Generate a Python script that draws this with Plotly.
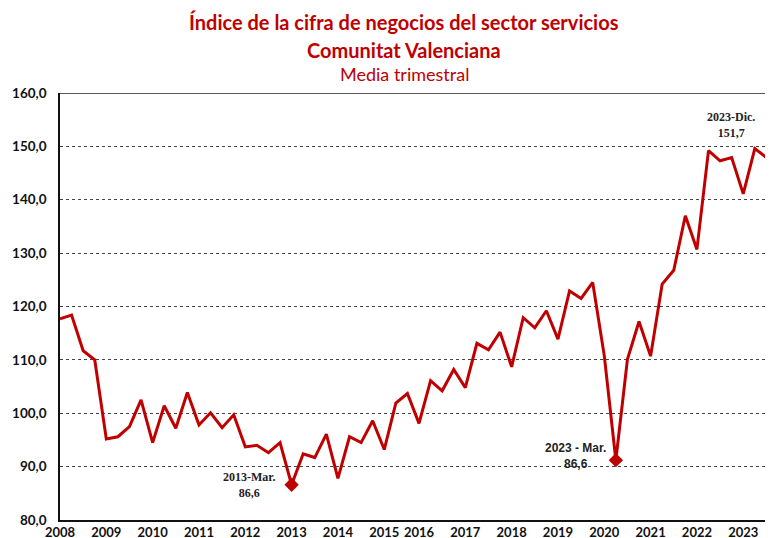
import plotly.graph_objects as go

# Quarterly index values (Media trimestral), 2008 onwards
values = [117.7, 118.4, 111.7, 110.0, 95.2, 95.6, 97.5, 102.5, 94.5, 101.4,
          97.2, 103.9, 97.8, 100.1, 97.3, 99.7, 93.7, 94.0, 92.6, 94.5,
          86.6, 92.4, 91.7, 96.1, 87.8, 95.6, 94.5, 98.6, 93.2, 101.9,
          103.7, 98.1, 106.1, 104.2, 108.2, 104.8, 113.1, 111.9, 115.2, 108.7,
          117.9, 116.0, 119.2, 113.9, 122.9, 121.5, 124.5, 110.8, 91.2, 110.1,
          117.2, 110.7, 124.2, 126.8, 137.0, 130.7, 149.2, 147.3, 147.9, 141.1,
          149.6, 147.9, 151.7]
periods = list(range(len(values)))

year_labels = ["2008", "2009", "2010", "2011", "2012", "2013", "2014", "2015",
               "2016", "2017", "2018", "2019", "2020", "2021", "2022", "2023"]
year_positions = [0, 4, 8, 12, 16, 20, 24, 28, 31, 35, 39, 43, 47, 51, 55, 59]

y_ticks = [80, 90, 100, 110, 120, 130, 140, 150, 160]
y_ticktext = ["80,0", "90,0", "100,0", "110,0", "120,0", "130,0", "140,0", "150,0", "160,0"]

marked_idx = [20, 48]

RED = "#C00000"

fig = go.Figure()
fig.add_trace(go.Scatter(x=periods, y=values, mode="lines",
                         line=dict(color=RED, width=3), hoverinfo="skip",
                         cliponaxis=True))
fig.add_trace(go.Scatter(x=[periods[i] for i in marked_idx],
                         y=[values[i] for i in marked_idx], mode="markers",
                         marker=dict(symbol="diamond", size=11, color=RED),
                         hoverinfo="skip"))

fig.add_shape(type="line", xref="paper", yref="y", x0=0, x1=1, y0=160, y1=160,
              line=dict(color="#222222", width=1.5))

title_font = "Lato"
fig.add_annotation(text="<b>Índice de la cifra de negocios del sector servicios</b>",
                   xref="paper", yref="paper", x=0.4825, y=1.166, xanchor="center",
                   yanchor="middle", showarrow=False,
                   font=dict(family=title_font, size=20, color=RED))
fig.add_annotation(text="<b>Comunitat Valenciana</b>",
                   xref="paper", yref="paper", x=0.4825, y=1.101, xanchor="center",
                   yanchor="middle", showarrow=False,
                   font=dict(family=title_font, size=20, color=RED))
fig.add_annotation(text="Media trimestral",
                   xref="paper", yref="paper", x=0.4825, y=1.045, xanchor="center",
                   yanchor="middle", showarrow=False,
                   font=dict(family=title_font, size=18, color=RED))

fig.add_annotation(text="<b>2013-Mar.<br>86,6</b>", x=16.4, y=86.6, showarrow=False,
                   font=dict(family="Liberation Serif", size=12, color="#222222"))
fig.add_annotation(text="<b>2023 - Mar.<br>86,6</b>", x=44.5, y=92.0, showarrow=False,
                   font=dict(family="Liberation Sans", size=12, color="#222222"))
fig.add_annotation(text="<b>2023-Dic.<br>151,7</b>", x=57.9, y=154.0, showarrow=False,
                   font=dict(family="Liberation Serif", size=12, color="#222222"))

fig.update_layout(
    width=765, height=530,
    margin=dict(l=52, r=0, t=85, b=18),
    paper_bgcolor="white", plot_bgcolor="white",
    showlegend=False,
    xaxis=dict(range=[0, 61.57], tickmode="array", tickvals=year_positions,
               ticktext=year_labels, showgrid=False, zeroline=False, automargin=False,
               showline=True, linecolor="#111111", linewidth=1.5, ticks="",
               ticklabelstandoff=0,
               tickfont=dict(family="Lato", size=13, color="#111111", weight="bold")),
    yaxis=dict(range=[80, 160], tickmode="array", tickvals=y_ticks, ticktext=y_ticktext,
               showgrid=True, gridcolor="#444444", griddash="dot", gridwidth=1,
               zeroline=False, showline=True, linecolor="#111111", linewidth=1.5,
               ticks="", ticklabelstandoff=9, automargin=False,
               tickfont=dict(family="Lato", size=13.5, color="#111111", weight="bold")),
)

fig.write_html("out.html")
